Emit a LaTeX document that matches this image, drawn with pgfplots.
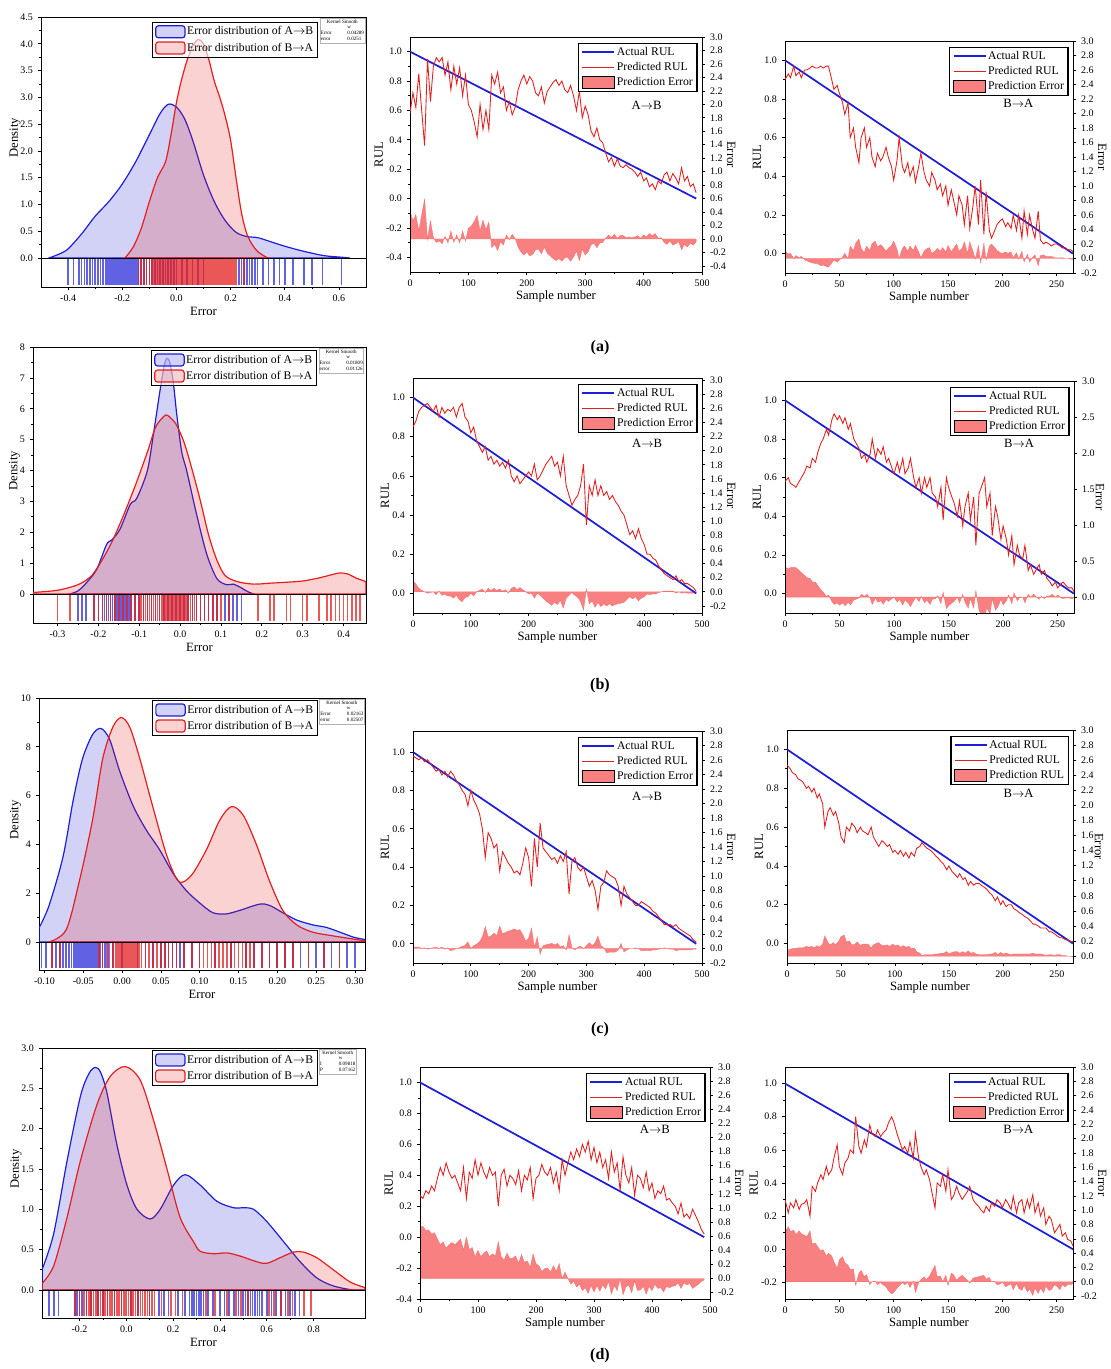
\documentclass[border=0pt]{standalone}
\usepackage{fontspec}
\setmainfont{Liberation Serif}
\usepackage{pgfplots}
\usepackage{pgfplotstable}
\pgfplotsset{compat=1.18}

\definecolor{cB}{RGB}{30,30,215}
\definecolor{cR}{RGB}{228,30,30}
\definecolor{cE}{RGB}{248,128,128}

\pgfplotsset{
  ax/.style={scale only axis, anchor=south west, tick align=outside,
    axis line style={line width=0.7pt}, major tick length=2.5pt, minor tick length=1.4pt,
    tick style={line width=0.5pt, black},
    tick label style={font=\fontsize{7.5}{8}\selectfont},
    label style={font=\fontsize{9.5}{10}\selectfont},
    /pgf/number format/assume math mode=true},
  yone/.style={yticklabel style={/pgf/number format/fixed, /pgf/number format/fixed zerofill, /pgf/number format/precision=1}},
  xone/.style={xticklabel style={/pgf/number format/fixed, /pgf/number format/fixed zerofill, /pgf/number format/precision=1}},
  xtwo/.style={xticklabel style={/pgf/number format/fixed, /pgf/number format/fixed zerofill, /pgf/number format/precision=2}},
  actlegend/.style={legend image code/.code={\draw[draw=cB, line width=1.6pt] (0pt,0pt) -- (24pt,0pt);}},
  predlegend/.style={legend image code/.code={\draw[draw=cR, line width=1.2pt] (0pt,0pt) -- (24pt,0pt);}},
  boxlegend/.style={legend image code/.code={\fill[fill=cE] (0pt,-4.5pt) rectangle (24pt,4.5pt);}},
  densleg/.style={legend image code/.code={\draw[##1, rounded corners=2pt] (0pt,-4.5pt) rectangle (22pt,4.5pt);}},
  rulmain/.style={ax, xtick pos=bottom, ytick pos=left, ylabel={RUL}, xlabel={Sample number},
    ylabel shift=-4.5pt, xlabel shift=-4pt,
    yone, minor x tick num=1, minor y tick num=1, legend cell align=left,
    legend style={at={(0.985,0.975)}, anchor=north east, draw=black, line width=0.9pt, fill=white,
      font=\fontsize{8.8}{9.5}\selectfont, inner xsep=2pt, inner ysep=1pt, nodes={inner xsep=1.1pt, inner ysep=1.9pt}}},
  rulerr/.style={ax, hide x axis, axis y line*=right, ylabel={Error}, ylabel style={rotate=180}, ylabel shift=-6pt, yone},
  dens/.style 2 args={ax, xtick=\empty, ytick pos=left, minor y tick num=1, ylabel={Density}, ylabel shift=-7pt, legend cell align=left,
    legend style={at={(#1,#2)}, anchor=north east, draw=black, line width=0.9pt, fill=white, fill opacity=0.6, text opacity=1,
      font=\fontsize{8.8}{9.5}\selectfont, inner xsep=2pt, inner ysep=1pt, nodes={inner xsep=1.1pt, inner ysep=2.2pt}}},
  rug/.style={ax, ytick=\empty, xtick pos=bottom, minor x tick num=1, xlabel={Error}, xlabel shift=-3pt, ymin=-0.06, ymax=1.04},
  act/.style={cB, line width=1.3pt, actlegend},
  pred/.style={cR, line width=0.65pt, predlegend},
  errf/.style={fill=cE, draw=cE!85!red, line width=0.25pt},
  dB/.style={draw=cB, line width=0.9pt, fill=cB, fill opacity=0.2, smooth, densleg},
  dR/.style={draw=cR, line width=0.9pt, fill=cR, fill opacity=0.2, smooth, densleg},
  rB/.style={ycomb, draw=cB, draw opacity=0.7, line width=1.2pt},
  rR/.style={ycomb, draw=cR, draw opacity=0.75, line width=1.2pt},
}
\tikzset{ktab/.style={anchor=north west, font=\fontsize{3.8}{4.3}\selectfont, inner sep=0.6pt, draw=gray!60, line width=0.2pt, fill=white},
  dir/.style={font=\fontsize{9.5}{10}\selectfont}}

% ---------------- RUL data: x, predicted, error ----------------
\pgfplotstableread{
x p e
0 0.58 0.42
5 0.72 0.27
10 0.62 0.36
15 0.85 0.12
20 0.60 0.36
25 0.36 0.59
30 0.95 -0.01
35 0.66 0.27
40 0.90 0.02
45 0.96 -0.05
50 0.93 -0.03
55 0.96 -0.07
60 0.84 0.04
65 0.93 -0.06
70 0.74 0.12
75 0.90 -0.05
80 0.78 0.06
85 0.89 -0.06
90 0.70 0.12
95 0.84 -0.03
100 0.64 0.16
105 0.60 0.19
110 0.52 0.26
115 0.42 0.35
120 0.64 0.12
125 0.47 0.28
130 0.60 0.14
135 0.47 0.25
140 0.84 -0.13
145 0.78 -0.08
150 0.86 -0.17
155 0.72 -0.04
160 0.76 -0.09
165 0.60 0.06
170 0.66 -0.01
175 0.57 0.07
180 0.62 0.01
185 0.74 -0.12
190 0.80 -0.19
195 0.84 -0.24
200 0.78 -0.19
205 0.83 -0.25
210 0.80 -0.23
215 0.72 -0.16
220 0.70 -0.15
225 0.76 -0.22
230 0.65 -0.12
235 0.73 -0.21
240 0.76 -0.25
245 0.79 -0.29
250 0.81 -0.32
255 0.77 -0.29
260 0.80 -0.33
265 0.74 -0.28
270 0.72 -0.27
275 0.77 -0.33
280 0.70 -0.27
285 0.60 -0.18
290 0.73 -0.32
295 0.55 -0.15
300 0.63 -0.24
305 0.57 -0.19
310 0.46 -0.09
315 0.42 -0.06
320 0.48 -0.13
325 0.40 -0.06
330 0.38 -0.05
335 0.31 0.01
340 0.25 0.06
345 0.28 0.02
350 0.22 0.07
355 0.27 0.01
360 0.22 0.05
365 0.21 0.05
370 0.23 0.02
375 0.21 0.03
380 0.20 0.02
385 0.18 0.03
390 0.15 0.05
395 0.18 0.01
400 0.12 0.06
405 0.14 0.03
410 0.08 0.08
415 0.10 0.05
420 0.06 0.08
425 0.12 0.01
430 0.10 0.02
435 0.16 -0.05
440 0.18 -0.08
445 0.12 -0.03
450 0.17 -0.09
455 0.14 -0.07
460 0.10 -0.04
465 0.21 -0.16
470 0.12 -0.08
475 0.15 -0.12
480 0.08 -0.06
485 0.10 -0.09
490 0.04 -0.04
}\tAm

\pgfplotstableread{
x p e
0 0.90 0.10
3 0.93 0.06
5 0.91 0.07
8 0.97 0.00
10 0.92 0.04
13 0.94 0.01
15 0.91 0.03
18 0.95 -0.02
20 0.95 -0.03
23 0.96 -0.05
25 0.97 -0.06
28 0.96 -0.07
30 0.96 -0.07
33 0.97 -0.10
35 0.96 -0.09
38 0.97 -0.11
40 0.97 -0.12
43 0.90 -0.06
45 0.85 -0.02
48 0.87 -0.05
50 0.83 -0.02
53 0.78 0.02
55 0.72 0.07
58 0.78 0.00
60 0.60 0.17
63 0.65 0.11
65 0.55 0.21
68 0.47 0.27
70 0.60 0.14
73 0.65 0.08
75 0.55 0.17
78 0.60 0.11
80 0.50 0.20
83 0.45 0.24
85 0.52 0.16
88 0.48 0.19
90 0.50 0.16
93 0.55 0.10
95 0.50 0.14
98 0.45 0.18
100 0.38 0.24
103 0.48 0.13
105 0.60 0.00
108 0.45 0.14
110 0.42 0.17
113 0.47 0.10
115 0.40 0.17
118 0.45 0.11
120 0.37 0.18
123 0.45 0.09
125 0.52 0.01
128 0.42 0.10
130 0.38 0.13
133 0.35 0.15
135 0.42 0.07
138 0.38 0.10
140 0.33 0.14
143 0.36 0.10
145 0.30 0.15
148 0.35 0.09
150 0.25 0.18
153 0.33 0.09
155 0.28 0.14
158 0.20 0.20
160 0.30 0.10
163 0.25 0.14
165 0.15 0.23
168 0.30 0.07
170 0.13 0.23
173 0.25 0.10
175 0.35 -0.01
178 0.15 0.18
180 0.38 -0.06
183 0.10 0.21
185 0.32 -0.02
188 0.12 0.17
190 0.08 0.20
193 0.12 0.15
195 0.15 0.11
198 0.17 0.08
200 0.18 0.07
203 0.14 0.09
205 0.16 0.07
208 0.13 0.09
210 0.20 0.01
213 0.12 0.08
215 0.20 -0.01
218 0.08 0.10
220 0.22 -0.05
223 0.10 0.06
225 0.20 -0.05
228 0.12 0.02
230 0.08 0.05
233 0.22 -0.10
235 0.07 0.04
238 0.05 0.05
240 0.06 0.03
243 0.05 0.03
245 0.04 0.03
248 0.05 0.01
250 0.05 0.01
253 0.04 0.01
255 0.03 0.01
258 0.03 0.00
260 0.02 0.00
263 0.02 -0.01
265 0.01 -0.01
}\tAr

\pgfplotstableread{
x p e
0 0.85 0.15
5 0.88 0.11
10 0.93 0.05
15 0.95 0.02
20 0.96 0.00
25 0.97 -0.02
30 0.95 -0.01
35 0.93 0.00
40 0.96 -0.04
45 0.90 0.01
50 0.95 -0.05
55 0.92 -0.03
60 0.94 -0.06
65 0.93 -0.06
70 0.95 -0.09
75 0.90 -0.05
80 0.95 -0.11
85 0.97 -0.14
90 0.90 -0.08
95 0.88 -0.07
100 0.82 -0.02
105 0.85 -0.06
110 0.78 0.00
115 0.75 0.02
120 0.72 0.04
125 0.75 -0.01
130 0.68 0.05
135 0.70 0.02
140 0.66 0.05
145 0.68 0.02
150 0.65 0.04
155 0.67 0.01
160 0.64 0.03
165 0.68 -0.02
170 0.60 0.05
175 0.57 0.07
180 0.60 0.03
185 0.56 0.06
190 0.58 0.03
195 0.60 0.00
200 0.62 -0.03
205 0.60 -0.02
210 0.66 -0.09
215 0.58 -0.02
220 0.60 -0.05
225 0.63 -0.09
230 0.66 -0.13
235 0.68 -0.16
240 0.70 -0.19
245 0.65 -0.15
250 0.67 -0.18
255 0.60 -0.12
260 0.70 -0.23
265 0.55 -0.09
270 0.50 -0.05
275 0.45 -0.01
280 0.48 -0.05
285 0.50 -0.08
290 0.55 -0.14
295 0.66 -0.26
300 0.35 0.04
305 0.55 -0.17
310 0.50 -0.13
315 0.58 -0.22
320 0.50 -0.15
325 0.55 -0.21
330 0.50 -0.17
335 0.52 -0.20
340 0.48 -0.17
345 0.50 -0.20
350 0.47 -0.18
355 0.45 -0.17
360 0.42 -0.16
365 0.40 -0.15
370 0.35 -0.11
375 0.30 -0.07
380 0.32 -0.10
385 0.28 -0.07
390 0.33 -0.13
395 0.28 -0.09
400 0.25 -0.07
405 0.20 -0.03
410 0.20 -0.04
415 0.18 -0.03
420 0.17 -0.03
425 0.14 -0.01
430 0.12 0.00
435 0.10 0.01
440 0.09 0.01
445 0.08 0.01
450 0.07 0.01
455 0.09 -0.02
460 0.06 0.00
465 0.07 -0.02
470 0.05 -0.01
475 0.05 -0.02
480 0.04 -0.02
485 0.03 -0.02
490 0.01 -0.01
}\tBm

\pgfplotstableread{
x p e
0 0.58 0.42
3 0.60 0.39
5 0.57 0.41
8 0.56 0.41
10 0.55 0.41
13 0.58 0.37
15 0.60 0.34
18 0.63 0.30
20 0.66 0.27
23 0.65 0.26
25 0.70 0.21
28 0.68 0.21
30 0.73 0.16
33 0.78 0.10
35 0.80 0.07
38 0.85 0.01
40 0.82 0.03
43 0.90 -0.06
45 0.93 -0.10
48 0.90 -0.08
50 0.92 -0.11
53 0.88 -0.08
55 0.91 -0.12
58 0.85 -0.07
60 0.88 -0.11
63 0.80 -0.04
65 0.78 -0.03
68 0.75 -0.01
70 0.70 0.04
73 0.72 0.01
75 0.68 0.04
78 0.72 -0.01
80 0.80 -0.10
83 0.70 -0.01
85 0.75 -0.07
88 0.72 -0.05
90 0.76 -0.10
93 0.68 -0.03
95 0.70 -0.06
98 0.65 -0.02
100 0.62 0.00
103 0.68 -0.07
105 0.63 -0.03
108 0.70 -0.11
110 0.62 -0.04
113 0.65 -0.08
115 0.70 -0.13
118 0.60 -0.05
120 0.55 0.00
123 0.60 -0.06
125 0.52 0.01
128 0.60 -0.08
130 0.55 -0.04
133 0.60 -0.10
135 0.52 -0.03
138 0.50 -0.02
140 0.45 0.02
143 0.55 -0.09
145 0.38 0.07
148 0.60 -0.16
150 0.55 -0.12
153 0.50 -0.08
155 0.47 -0.06
158 0.40 0.00
160 0.48 -0.08
163 0.35 0.04
165 0.45 -0.07
168 0.52 -0.15
170 0.38 -0.02
173 0.50 -0.15
175 0.25 0.09
178 0.52 -0.19
180 0.55 -0.23
183 0.60 -0.29
185 0.45 -0.15
188 0.52 -0.23
190 0.30 -0.02
193 0.45 -0.18
195 0.40 -0.14
198 0.28 -0.03
200 0.35 -0.11
203 0.28 -0.05
205 0.20 0.03
208 0.30 -0.09
210 0.15 0.06
213 0.25 -0.05
215 0.20 -0.01
218 0.18 0.00
220 0.25 -0.08
223 0.12 0.04
225 0.15 0.00
228 0.10 0.04
230 0.12 0.01
233 0.15 -0.03
235 0.10 0.01
238 0.12 -0.02
240 0.08 0.01
243 0.06 0.02
245 0.04 0.04
248 0.06 0.00
250 0.03 0.03
253 0.05 -0.01
255 0.06 -0.02
258 0.04 -0.01
260 0.03 -0.01
263 0.03 -0.02
265 0.01 -0.01
}\tBr

\pgfplotstableread{
x p e
0 0.98 0.02
5 0.97 0.02
10 0.96 0.02
15 0.97 0.00
20 0.95 0.01
25 0.96 -0.01
30 0.94 0.00
35 0.92 0.01
40 0.90 0.02
45 0.91 0.00
50 0.88 0.02
55 0.90 -0.01
60 0.87 0.01
65 0.90 -0.03
70 0.88 -0.02
75 0.85 0.00
80 0.83 0.01
85 0.80 0.03
90 0.78 0.04
95 0.72 0.09
100 0.80 0.00
105 0.75 0.04
110 0.72 0.06
115 0.68 0.09
120 0.60 0.16
125 0.45 0.30
130 0.58 0.16
135 0.55 0.17
140 0.50 0.21
145 0.52 0.18
150 0.38 0.31
155 0.48 0.20
160 0.45 0.22
165 0.42 0.24
170 0.40 0.25
175 0.37 0.27
180 0.38 0.25
185 0.36 0.26
190 0.42 0.19
195 0.50 0.10
200 0.45 0.14
205 0.30 0.28
210 0.55 0.02
215 0.40 0.16
220 0.63 -0.08
225 0.50 0.04
230 0.48 0.05
235 0.46 0.06
240 0.44 0.07
245 0.45 0.05
250 0.42 0.07
255 0.46 0.02
260 0.43 0.04
265 0.48 -0.02
270 0.26 0.19
275 0.43 0.01
280 0.45 -0.02
285 0.40 0.02
290 0.38 0.03
295 0.40 0.00
300 0.35 0.04
305 0.30 0.08
310 0.33 0.04
315 0.28 0.08
320 0.18 0.17
325 0.30 0.04
330 0.32 0.01
335 0.38 -0.06
340 0.36 -0.05
345 0.35 -0.05
350 0.34 -0.05
355 0.30 -0.02
360 0.20 0.07
365 0.30 -0.05
370 0.26 -0.02
375 0.24 0.00
380 0.22 0.00
385 0.20 0.01
390 0.20 0.00
395 0.22 -0.03
400 0.21 -0.03
405 0.20 -0.03
410 0.19 -0.03
415 0.17 -0.02
420 0.16 -0.02
425 0.14 -0.01
430 0.12 0.00
435 0.10 0.01
440 0.10 0.00
445 0.10 -0.01
450 0.09 -0.01
455 0.10 -0.03
460 0.08 -0.02
465 0.07 -0.02
470 0.06 -0.02
475 0.05 -0.02
480 0.04 -0.02
485 0.02 -0.01
490 0.01 -0.01
}\tCm

\pgfplotstableread{
x p e
0 0.92 0.08
3 0.90 0.09
5 0.88 0.10
8 0.87 0.10
10 0.85 0.11
13 0.84 0.11
15 0.83 0.11
18 0.80 0.13
20 0.81 0.12
23 0.78 0.13
25 0.80 0.11
28 0.75 0.14
30 0.77 0.12
33 0.72 0.16
35 0.60 0.27
38 0.68 0.18
40 0.70 0.15
43 0.66 0.18
45 0.68 0.15
48 0.62 0.20
50 0.55 0.26
53 0.52 0.28
55 0.60 0.19
58 0.58 0.20
60 0.62 0.15
63 0.60 0.16
65 0.57 0.19
68 0.60 0.14
70 0.58 0.16
73 0.57 0.16
75 0.56 0.16
78 0.60 0.11
80 0.55 0.15
83 0.52 0.17
85 0.50 0.18
88 0.53 0.14
90 0.52 0.14
93 0.50 0.15
95 0.51 0.13
98 0.47 0.16
100 0.48 0.14
103 0.46 0.15
105 0.48 0.12
108 0.45 0.14
110 0.47 0.12
113 0.44 0.13
115 0.47 0.10
118 0.45 0.11
120 0.49 0.06
123 0.50 0.04
125 0.52 0.01
128 0.50 0.02
130 0.49 0.02
133 0.48 0.02
135 0.47 0.02
138 0.45 0.03
140 0.44 0.03
143 0.42 0.04
145 0.41 0.04
148 0.38 0.06
150 0.40 0.03
153 0.37 0.05
155 0.36 0.06
158 0.34 0.06
160 0.36 0.04
163 0.33 0.06
165 0.34 0.04
168 0.30 0.07
170 0.32 0.04
173 0.30 0.05
175 0.31 0.03
178 0.31 0.02
180 0.30 0.02
183 0.29 0.02
185 0.28 0.02
188 0.26 0.03
190 0.25 0.03
193 0.22 0.05
195 0.24 0.02
198 0.20 0.05
200 0.22 0.03
203 0.19 0.04
205 0.20 0.03
208 0.20 0.02
210 0.18 0.03
213 0.17 0.03
215 0.16 0.03
218 0.15 0.03
220 0.14 0.03
223 0.13 0.03
225 0.12 0.03
228 0.10 0.04
230 0.10 0.03
233 0.09 0.03
235 0.08 0.03
238 0.08 0.02
240 0.08 0.01
243 0.06 0.02
245 0.06 0.02
248 0.05 0.01
250 0.04 0.02
253 0.03 0.02
255 0.03 0.01
258 0.02 0.01
260 0.02 0.00
263 0.01 0.00
265 0.01 -0.01
}\tCr

\pgfplotstableread{
x p e
0 0.27 0.73
5 0.25 0.74
10 0.30 0.68
15 0.28 0.69
20 0.33 0.63
25 0.30 0.65
30 0.38 0.56
35 0.45 0.48
40 0.40 0.52
45 0.48 0.43
50 0.42 0.48
55 0.38 0.51
60 0.40 0.48
65 0.35 0.52
70 0.30 0.56
75 0.45 0.40
80 0.25 0.59
85 0.42 0.41
90 0.38 0.44
95 0.50 0.31
100 0.40 0.40
105 0.48 0.31
110 0.42 0.36
115 0.38 0.39
120 0.45 0.31
125 0.40 0.35
130 0.42 0.32
135 0.20 0.52
140 0.40 0.31
145 0.44 0.26
150 0.33 0.36
155 0.40 0.28
160 0.38 0.29
165 0.34 0.32
170 0.43 0.22
175 0.30 0.34
180 0.40 0.23
185 0.37 0.25
190 0.45 0.16
195 0.25 0.35
200 0.38 0.21
205 0.40 0.18
210 0.47 0.10
215 0.42 0.14
220 0.40 0.15
225 0.45 0.09
230 0.35 0.18
235 0.42 0.10
240 0.30 0.21
245 0.50 0.00
250 0.40 0.09
255 0.48 0.00
260 0.55 -0.08
265 0.50 -0.04
270 0.57 -0.12
275 0.52 -0.08
280 0.60 -0.17
285 0.55 -0.13
290 0.62 -0.21
295 0.50 -0.10
300 0.58 -0.19
305 0.48 -0.10
310 0.55 -0.18
315 0.45 -0.09
320 0.50 -0.15
325 0.38 -0.04
330 0.55 -0.22
335 0.42 -0.10
340 0.48 -0.17
345 0.30 0.00
350 0.52 -0.23
355 0.40 -0.12
360 0.35 -0.09
365 0.45 -0.20
370 0.27 -0.03
375 0.40 -0.17
380 0.38 -0.16
385 0.32 -0.11
390 0.42 -0.22
395 0.30 -0.11
400 0.35 -0.17
405 0.25 -0.08
410 0.30 -0.14
415 0.28 -0.13
420 0.33 -0.19
425 0.24 -0.11
430 0.25 -0.13
435 0.22 -0.11
440 0.20 -0.10
445 0.15 -0.06
450 0.22 -0.14
455 0.13 -0.06
460 0.15 -0.09
465 0.12 -0.07
470 0.18 -0.14
475 0.14 -0.11
480 0.10 -0.08
485 0.05 -0.04
490 0.02 -0.02
}\tDm

\pgfplotstableread{
x p e
0 0.30 0.70
3 0.22 0.77
5 0.28 0.70
8 0.25 0.72
10 0.30 0.66
13 0.24 0.71
15 0.27 0.67
18 0.28 0.65
20 0.30 0.63
23 0.20 0.71
25 0.38 0.53
28 0.35 0.54
30 0.40 0.49
33 0.45 0.43
35 0.42 0.45
38 0.50 0.36
40 0.45 0.40
43 0.48 0.36
45 0.55 0.28
48 0.63 0.19
50 0.50 0.31
53 0.45 0.35
55 0.52 0.27
58 0.55 0.23
60 0.60 0.17
63 0.58 0.18
65 0.80 -0.05
68 0.62 0.12
70 0.58 0.16
73 0.66 0.07
75 0.62 0.10
78 0.75 -0.04
80 0.70 0.00
83 0.68 0.01
85 0.72 -0.04
88 0.68 -0.01
90 0.70 -0.04
93 0.72 -0.07
95 0.76 -0.12
98 0.80 -0.17
100 0.77 -0.15
103 0.70 -0.09
105 0.66 -0.06
108 0.60 -0.01
110 0.62 -0.04
113 0.58 -0.01
115 0.65 -0.08
118 0.55 0.01
120 0.70 -0.15
123 0.55 -0.01
125 0.50 0.03
128 0.45 0.07
130 0.48 0.03
133 0.42 0.08
135 0.35 0.14
138 0.25 0.23
140 0.40 0.07
143 0.38 0.08
145 0.45 0.00
148 0.35 0.09
150 0.48 -0.05
153 0.30 0.12
155 0.32 0.10
158 0.38 0.02
160 0.34 0.06
163 0.30 0.09
165 0.32 0.06
168 0.35 0.02
170 0.38 -0.02
173 0.30 0.05
175 0.28 0.06
178 0.26 0.07
180 0.24 0.08
183 0.22 0.09
185 0.26 0.04
188 0.23 0.06
190 0.28 0.00
193 0.26 0.01
195 0.30 -0.04
198 0.28 -0.03
200 0.25 0.00
203 0.30 -0.07
205 0.28 -0.05
208 0.24 -0.03
210 0.32 -0.11
213 0.22 -0.02
215 0.28 -0.09
218 0.30 -0.12
220 0.22 -0.05
223 0.30 -0.14
225 0.25 -0.10
228 0.33 -0.19
230 0.22 -0.09
233 0.28 -0.16
235 0.20 -0.09
238 0.25 -0.15
240 0.15 -0.06
243 0.20 -0.12
245 0.18 -0.11
248 0.10 -0.04
250 0.12 -0.06
253 0.15 -0.11
255 0.08 -0.04
258 0.10 -0.07
260 0.06 -0.04
263 0.05 -0.04
265 0.02 -0.02
}\tDr

\begin{document}
\begin{tikzpicture}
\useasboundingbox (0,0) rectangle (832.5pt,1026.75pt);

% ======================= ROW (a) =======================
\begin{axis}[dens={0.852}{0.98}, at={(30.75pt,833.25pt)}, width=243.75pt, height=180.75pt,
  xmin=-0.5, xmax=0.7, ymin=0, ymax=4.5, ytick={0,0.5,1,1.5,2,2.5,3,3.5,4,4.5}, yone]
\addplot[dB] coordinates {(-0.47,0) (-0.43,0.08) (-0.4,0.17) (-0.35,0.45) (-0.3,0.78) (-0.25,1.05) (-0.2,1.38) (-0.15,1.8) (-0.1,2.3) (-0.06,2.7) (-0.03,2.87) (0.0,2.82) (0.03,2.6) (0.06,2.2) (0.1,1.55) (0.14,1.05) (0.18,0.7) (0.22,0.48) (0.26,0.4) (0.3,0.38) (0.35,0.3) (0.4,0.22) (0.45,0.15) (0.5,0.09) (0.55,0.04) (0.62,0.01) (0.64,0)} \closedcycle;
\addplot[dR] coordinates {(-0.19,0) (-0.16,0.2) (-0.13,0.55) (-0.1,1.05) (-0.07,1.5) (-0.04,1.8) (-0.02,2.3) (0.0,2.9) (0.02,3.35) (0.04,3.7) (0.06,3.95) (0.08,4.08) (0.1,4.0) (0.12,3.7) (0.14,3.3) (0.16,3.0) (0.18,2.65) (0.2,2.2) (0.22,1.5) (0.24,0.85) (0.26,0.45) (0.28,0.25) (0.3,0.12) (0.33,0.02) (0.34,0)} \closedcycle;
\legend{Error distribution of A$\rightarrow$B, Error distribution of B$\rightarrow$A}
\node[ktab] at (rel axis cs:0.858,0.995) {\begin{tabular}{@{}ll@{}}\multicolumn{2}{@{}c@{}}{Kernel Smooth}\\ & w\\ Error & 0.04289\\ error & 0.0251\end{tabular}};
\end{axis}
\begin{axis}[rug, at={(30.75pt,811.5pt)}, width=243.75pt, height=21.75pt, xmin=-0.5, xmax=0.7,
  xtick={-0.4,-0.2,0,0.2,0.4,0.6}, xone]
\addplot[rB] coordinates {(-0.40,1) (-0.38,1) (-0.36,1) (-0.35,1) (-0.34,1) (-0.33,1) (-0.32,1) (-0.31,1) (-0.30,1) (-0.29,1) (-0.28,1) (-0.27,1) (-0.26,1) (-0.255,1) (-0.25,1) (-0.245,1) (-0.24,1) (-0.235,1) (-0.23,1) (-0.225,1) (-0.22,1) (-0.215,1) (-0.21,1) (-0.205,1) (-0.20,1) (-0.195,1) (-0.19,1) (-0.185,1) (-0.18,1) (-0.175,1) (-0.17,1) (-0.165,1) (-0.16,1) (-0.155,1) (-0.15,1) (-0.145,1) (-0.14,1) (-0.13,1) (-0.12,1) (-0.11,1) (-0.10,1) (-0.09,1) (-0.08,1) (-0.07,1) (-0.06,1) (-0.05,1) (-0.04,1) (-0.03,1) (-0.02,1) (-0.01,1) (0.00,1) (0.02,1) (0.04,1) (0.06,1) (0.08,1) (0.10,1) (0.23,1) (0.24,1) (0.25,1) (0.26,1) (0.27,1) (0.28,1) (0.29,1) (0.30,1) (0.32,1) (0.34,1) (0.36,1) (0.38,1) (0.40,1) (0.43,1) (0.47,1) (0.50,1) (0.54,1) (0.61,1)};
\addplot[rR] coordinates {(-0.14,1) (-0.13,1) (-0.12,1) (-0.11,1) (-0.10,1) (-0.09,1) (-0.085,1) (-0.08,1) (-0.075,1) (-0.07,1) (-0.065,1) (-0.06,1) (-0.055,1) (-0.05,1) (-0.045,1) (-0.04,1) (-0.035,1) (-0.03,1) (-0.025,1) (-0.02,1) (-0.015,1) (-0.01,1) (-0.005,1) (0.00,1) (0.005,1) (0.01,1) (0.015,1) (0.02,1) (0.025,1) (0.03,1) (0.035,1) (0.04,1) (0.045,1) (0.05,1) (0.055,1) (0.06,1) (0.065,1) (0.07,1) (0.075,1) (0.08,1) (0.085,1) (0.09,1) (0.095,1) (0.10,1) (0.105,1) (0.11,1) (0.115,1) (0.12,1) (0.125,1) (0.13,1) (0.135,1) (0.14,1) (0.145,1) (0.15,1) (0.155,1) (0.16,1) (0.165,1) (0.17,1) (0.175,1) (0.18,1) (0.185,1) (0.19,1) (0.195,1) (0.20,1) (0.205,1) (0.21,1) (0.215,1) (0.22,1) (0.25,1)};
\end{axis}

\begin{axis}[rulerr, at={(307.5pt,822.75pt)}, width=219pt, height=176.25pt, xmin=0, xmax=500, ymin=-0.49, ymax=3.0,
  ytick={-0.4,-0.2,0,0.2,0.4,0.6,0.8,1.0,1.2,1.4,1.6,1.8,2.0,2.2,2.4,2.6,2.8,3.0}]
\addplot[errf] table[x=x,y=e] {\tAm} \closedcycle;
\end{axis}
\begin{axis}[rulmain, at={(307.5pt,822.75pt)}, width=219pt, height=176.25pt, xmin=0, xmax=500, ymin=-0.5, ymax=1.1,
  ytick={-0.4,-0.2,0,0.2,0.4,0.6,0.8,1.0}]
\addplot[act] coordinates {(0,1) (490,0)};
\addplot[pred] table[x=x,y=p] {\tAm};
\addlegendimage{boxlegend}
\legend{Actual RUL, Predicted RUL, Prediction Error}
\node[dir] at (rel axis cs:0.81,0.71) {A$\rightarrow$B};
\end{axis}

\begin{axis}[rulerr, at={(588.75pt,822pt)}, width=216pt, height=174pt, xmin=0, xmax=265, ymin=-0.2, ymax=3.0,
  ytick={-0.2,0,0.2,0.4,0.6,0.8,1.0,1.2,1.4,1.6,1.8,2.0,2.2,2.4,2.6,2.8,3.0}]
\addplot[errf] table[x=x,y=e] {\tAr} \closedcycle;
\end{axis}
\begin{axis}[rulmain, at={(588.75pt,822pt)}, width=216pt, height=174pt, xmin=0, xmax=265, ymin=-0.1, ymax=1.1,
  xtick={0,50,100,150,200,250}, ytick={0,0.2,0.4,0.6,0.8,1.0}]
\addplot[act] coordinates {(0,1) (265,0)};
\addplot[pred] table[x=x,y=p] {\tAr};
\addlegendimage{boxlegend}
\legend{Actual RUL, Predicted RUL, Prediction Error}
\node[dir] at (rel axis cs:0.81,0.73) {B$\rightarrow$A};
\end{axis}

\node[font=\bfseries\fontsize{12}{14}\selectfont] at (450pt,765.75pt) {(a)};

% ======================= ROW (b) =======================
\begin{axis}[dens={0.853}{0.988}, at={(24.75pt,581.25pt)}, width=249.75pt, height=185.25pt,
  xmin=-0.36, xmax=0.455, ymin=0, ymax=8, ytick={0,1,2,3,4,5,6,7,8}]
\addplot[dB] coordinates {(-0.27,0) (-0.25,0.1) (-0.23,0.35) (-0.204,0.8) (-0.18,1.6) (-0.167,1.75) (-0.147,2.1) (-0.122,2.9) (-0.106,3.1) (-0.08,4.0) (-0.065,5.2) (-0.049,6.6) (-0.037,7.5) (-0.028,7.6) (-0.018,7.0) (-0.008,5.8) (0.004,4.6) (0.016,4.0) (0.04,2.6) (0.065,1.3) (0.09,0.5) (0.114,0.3) (0.13,0.32) (0.147,0.22) (0.165,0.08) (0.18,0)} \closedcycle;
\addplot[dR] coordinates {(-0.36,0.05) (-0.3,0.12) (-0.25,0.3) (-0.22,0.55) (-0.2,0.9) (-0.17,1.6) (-0.14,2.5) (-0.11,3.5) (-0.08,4.6) (-0.06,5.4) (-0.04,5.75) (-0.03,5.78) (-0.01,5.5) (0.01,4.9) (0.03,4.0) (0.05,3.0) (0.07,1.9) (0.09,1.1) (0.11,0.6) (0.14,0.4) (0.18,0.32) (0.22,0.35) (0.26,0.38) (0.3,0.42) (0.34,0.52) (0.37,0.62) (0.39,0.68) (0.41,0.65) (0.43,0.52) (0.455,0.4)} \closedcycle;
\legend{Error distribution of A$\rightarrow$B, Error distribution of B$\rightarrow$A}
\node[ktab] at (rel axis cs:0.858,0.995) {\begin{tabular}{@{}ll@{}}\multicolumn{2}{@{}c@{}}{Kernel Smooth}\\ & w\\ Error & 0.01809\\ error & 0.01126\end{tabular}};
\end{axis}
\begin{axis}[rug, at={(24.75pt,559.5pt)}, width=249.75pt, height=21.75pt, xmin=-0.36, xmax=0.455,
  xtick={-0.3,-0.2,-0.1,0,0.1,0.2,0.3,0.4}, xone]
\addplot[rB] coordinates {(-0.25,1) (-0.24,1) (-0.23,1) (-0.21,1) (-0.20,1) (-0.19,1) (-0.185,1) (-0.18,1) (-0.175,1) (-0.17,1) (-0.165,1) (-0.16,1) (-0.155,1) (-0.15,1) (-0.145,1) (-0.14,1) (-0.135,1) (-0.13,1) (-0.125,1) (-0.12,1) (-0.11,1) (-0.10,1) (-0.09,1) (-0.08,1) (-0.07,1) (-0.06,1) (-0.05,1) (-0.04,1) (-0.03,1) (-0.02,1) (-0.01,1) (0.00,1) (0.01,1) (0.02,1) (0.03,1) (0.04,1) (0.05,1) (0.06,1) (0.07,1) (0.08,1) (0.09,1) (0.11,1) (0.12,1) (0.13,1) (0.14,1) (0.15,1)};
\addplot[rR] coordinates {(-0.30,1) (-0.27,1) (-0.21,1) (-0.20,1) (-0.19,1) (-0.18,1) (-0.17,1) (-0.16,1) (-0.15,1) (-0.14,1) (-0.13,1) (-0.12,1) (-0.11,1) (-0.10,1) (-0.095,1) (-0.09,1) (-0.085,1) (-0.08,1) (-0.075,1) (-0.07,1) (-0.065,1) (-0.06,1) (-0.055,1) (-0.05,1) (-0.045,1) (-0.04,1) (-0.035,1) (-0.03,1) (-0.025,1) (-0.02,1) (-0.015,1) (-0.01,1) (-0.005,1) (0.00,1) (0.005,1) (0.01,1) (0.015,1) (0.02,1) (0.025,1) (0.03,1) (0.035,1) (0.04,1) (0.05,1) (0.06,1) (0.07,1) (0.08,1) (0.09,1) (0.10,1) (0.12,1) (0.19,1) (0.22,1) (0.23,1) (0.26,1) (0.27,1) (0.30,1) (0.31,1) (0.34,1) (0.36,1) (0.37,1) (0.38,1) (0.39,1) (0.40,1) (0.41,1) (0.42,1) (0.43,1) (0.44,1)};
\end{axis}

\begin{axis}[rulerr, at={(309.75pt,567pt)}, width=216.75pt, height=176.25pt, xmin=0, xmax=500, ymin=-0.3, ymax=3.03,
  ytick={-0.2,0,0.2,0.4,0.6,0.8,1.0,1.2,1.4,1.6,1.8,2.0,2.2,2.4,2.6,2.8,3.0}]
\addplot[errf] table[x=x,y=e] {\tBm} \closedcycle;
\end{axis}
\begin{axis}[rulmain, at={(309.75pt,567pt)}, width=216.75pt, height=176.25pt, xmin=0, xmax=500, ymin=-0.1, ymax=1.1,
  ytick={0,0.2,0.4,0.6,0.8,1.0}]
\addplot[act] coordinates {(0,1) (490,0)};
\addplot[pred] table[x=x,y=p] {\tBm};
\addlegendimage{boxlegend}
\legend{Actual RUL, Predicted RUL, Prediction Error}
\node[dir] at (rel axis cs:0.81,0.72) {A$\rightarrow$B};
\end{axis}

\begin{axis}[rulerr, at={(588.75pt,567pt)}, width=216.75pt, height=174pt, xmin=0, xmax=265, ymin=-0.22, ymax=3.0,
  ytick={0,0.5,1.0,1.5,2.0,2.5,3.0}]
\addplot[errf] table[x=x,y=e] {\tBr} \closedcycle;
\end{axis}
\begin{axis}[rulmain, at={(588.75pt,567pt)}, width=216.75pt, height=174pt, xmin=0, xmax=265, ymin=-0.1, ymax=1.1,
  xtick={0,50,100,150,200,250}, ytick={0,0.2,0.4,0.6,0.8,1.0}]
\addplot[act] coordinates {(0,1) (265,0)};
\addplot[pred] table[x=x,y=p] {\tBr};
\addlegendimage{boxlegend}
\legend{Actual RUL, Predicted RUL, Prediction Error}
\node[dir] at (rel axis cs:0.81,0.73) {B$\rightarrow$A};
\end{axis}

\node[font=\bfseries\fontsize{12}{14}\selectfont] at (450pt,512.25pt) {(b)};

% ======================= ROW (c) =======================
\begin{axis}[dens={0.856}{0.992}, at={(29.25pt,320.25pt)}, width=244.5pt, height=183pt,
  xmin=-0.107, xmax=0.313, ymin=0, ymax=10, ytick={0,2,4,6,8,10}]
\addplot[dB] coordinates {(-0.107,0.57) (-0.094,1.5) (-0.076,3.5) (-0.063,5.8) (-0.051,7.5) (-0.038,8.5) (-0.027,8.75) (-0.016,8.3) (-0.003,7.0) (0.014,5.6) (0.031,4.6) (0.048,3.8) (0.066,2.8) (0.083,2.1) (0.1,1.6) (0.117,1.2) (0.134,1.15) (0.152,1.3) (0.177,1.55) (0.19,1.5) (0.207,1.2) (0.225,0.9) (0.246,0.7) (0.263,0.6) (0.281,0.4) (0.298,0.2) (0.313,0.1)} \closedcycle;
\addplot[dR] coordinates {(-0.094,0) (-0.072,0.5) (-0.055,2.5) (-0.038,5.0) (-0.025,7.5) (-0.012,8.8) (-0.001,9.2) (0.01,8.8) (0.023,7.5) (0.04,5.5) (0.057,3.6) (0.07,2.6) (0.078,2.45) (0.091,2.8) (0.109,3.8) (0.126,5.0) (0.141,5.55) (0.156,5.2) (0.173,4.0) (0.19,2.5) (0.207,1.3) (0.225,0.7) (0.246,0.4) (0.272,0.25) (0.298,0.12) (0.313,0.05)} \closedcycle;
\legend{Error distribution of A$\rightarrow$B, Error distribution of B$\rightarrow$A}
\node[ktab] at (rel axis cs:0.86,0.995) {\begin{tabular}{@{}ll@{}}\multicolumn{2}{@{}c@{}}{Kernel Smooth}\\ & w\\ Error & 0.02163\\ error & 0.02507\end{tabular}};
\end{axis}
\begin{axis}[rug, at={(29.25pt,299.25pt)}, width=244.5pt, height=21pt, xmin=-0.107, xmax=0.313,
  xtick={-0.10,-0.05,0,0.05,0.10,0.15,0.20,0.25,0.30}, minor x tick num=0, xtwo]
\addplot[rB] coordinates {(-0.104,1) (-0.098,1) (-0.09,1) (-0.085,1) (-0.08,1) (-0.076,1) (-0.072,1) (-0.068,1) (-0.065,1) (-0.062,1) (-0.06,1) (-0.058,1) (-0.056,1) (-0.054,1) (-0.052,1) (-0.05,1) (-0.048,1) (-0.046,1) (-0.044,1) (-0.042,1) (-0.04,1) (-0.038,1) (-0.036,1) (-0.034,1) (-0.032,1) (-0.03,1) (-0.028,1) (-0.025,1) (-0.022,1) (-0.018,1) (-0.012,1) (0.00,1) (0.02,1) (0.03,1) (0.04,1) (0.05,1) (0.055,1) (0.06,1) (0.065,1) (0.07,1) (0.075,1) (0.08,1) (0.09,1) (0.1,1) (0.12,1) (0.14,1) (0.16,1) (0.17,1) (0.18,1) (0.19,1) (0.2,1) (0.21,1) (0.22,1) (0.23,1) (0.24,1) (0.25,1) (0.26,1) (0.27,1) (0.28,1) (0.29,1) (0.30,1)};
\addplot[rR] coordinates {(-0.09,1) (-0.08,1) (-0.03,1) (-0.025,1) (-0.02,1) (-0.016,1) (-0.012,1) (-0.008,1) (-0.006,1) (-0.004,1) (-0.002,1) (0.00,1) (0.002,1) (0.004,1) (0.006,1) (0.008,1) (0.01,1) (0.012,1) (0.014,1) (0.016,1) (0.018,1) (0.02,1) (0.022,1) (0.025,1) (0.03,1) (0.035,1) (0.04,1) (0.045,1) (0.05,1) (0.055,1) (0.06,1) (0.065,1) (0.07,1) (0.08,1) (0.09,1) (0.10,1) (0.105,1) (0.11,1) (0.115,1) (0.12,1) (0.125,1) (0.13,1) (0.135,1) (0.14,1) (0.145,1) (0.15,1) (0.155,1) (0.16,1) (0.165,1) (0.17,1) (0.18,1) (0.19,1) (0.2,1) (0.21,1) (0.22,1) (0.24,1) (0.26,1) (0.28,1)};
\end{axis}

\begin{axis}[rulerr, at={(309.75pt,304.5pt)}, width=216.75pt, height=174pt, xmin=0, xmax=500, ymin=-0.2, ymax=3.0,
  ytick={-0.2,0,0.2,0.4,0.6,0.8,1.0,1.2,1.4,1.6,1.8,2.0,2.2,2.4,2.6,2.8,3.0}]
\addplot[errf] table[x=x,y=e] {\tCm} \closedcycle;
\end{axis}
\begin{axis}[rulmain, at={(309.75pt,304.5pt)}, width=216.75pt, height=174pt, xmin=0, xmax=500, ymin=-0.1, ymax=1.11,
  ytick={0,0.2,0.4,0.6,0.8,1.0}]
\addplot[act] coordinates {(0,1) (490,0)};
\addplot[pred] table[x=x,y=p] {\tCm};
\addlegendimage{boxlegend}
\legend{Actual RUL, Predicted RUL, Prediction Error}
\node[dir] at (rel axis cs:0.81,0.72) {A$\rightarrow$B};
\end{axis}

\begin{axis}[rulerr, at={(590.25pt,304.5pt)}, width=214.5pt, height=174.75pt, xmin=0, xmax=265, ymin=-0.09, ymax=3.0,
  ytick={0,0.2,0.4,0.6,0.8,1.0,1.2,1.4,1.6,1.8,2.0,2.2,2.4,2.6,2.8,3.0}]
\addplot[errf] table[x=x,y=e] {\tCr} \closedcycle;
\end{axis}
\begin{axis}[rulmain, at={(590.25pt,304.5pt)}, width=214.5pt, height=174.75pt, xmin=0, xmax=265, ymin=-0.1, ymax=1.1,
  xtick={0,50,100,150,200,250}, ytick={0,0.2,0.4,0.6,0.8,1.0}]
\addplot[act] coordinates {(0,1) (265,0)};
\addplot[pred] table[x=x,y=p] {\tCr};
\addlegendimage{boxlegend}
\legend{Actual RUL, Predicted RUL, Prediction RUL}
\node[dir] at (rel axis cs:0.81,0.73) {B$\rightarrow$A};
\end{axis}

\node[font=\bfseries\fontsize{12}{14}\selectfont] at (450pt,254.25pt) {(c)};

% ======================= ROW (d) =======================
\begin{axis}[dens={0.854}{0.992}, at={(31.5pt,59.25pt)}, width=242.25pt, height=181.5pt,
  xmin=-0.36, xmax=1.02, ymin=0, ymax=3.0, ytick={0,0.5,1,1.5,2,2.5,3}, yone]
\addplot[dB] coordinates {(-0.36,0.25) (-0.31,0.7) (-0.253,1.6) (-0.196,2.4) (-0.16,2.68) (-0.132,2.76) (-0.11,2.7) (-0.083,2.45) (-0.04,1.8) (0.003,1.3) (0.046,1.0) (0.102,0.88) (0.145,1.0) (0.202,1.3) (0.252,1.43) (0.316,1.3) (0.387,1.1) (0.458,1.02) (0.50,1.02) (0.544,1.0) (0.6,0.85) (0.672,0.6) (0.743,0.35) (0.814,0.15) (0.885,0.05) (0.97,0.0) (1.02,0.0)} \closedcycle;
\addplot[dR] coordinates {(-0.36,0.08) (-0.31,0.3) (-0.253,0.9) (-0.196,1.6) (-0.125,2.3) (-0.068,2.65) (-0.004,2.77) (0.06,2.6) (0.117,2.1) (0.174,1.5) (0.23,0.9) (0.287,0.6) (0.316,0.48) (0.373,0.45) (0.43,0.46) (0.487,0.42) (0.558,0.35) (0.6,0.33) (0.657,0.4) (0.714,0.47) (0.757,0.47) (0.814,0.4) (0.885,0.25) (0.956,0.1) (1.02,0.03)} \closedcycle;
\legend{Error distribution of A$\rightarrow$B, Error distribution of B$\rightarrow$A}
\node[ktab] at (rel axis cs:0.858,0.995) {\begin{tabular}{@{}ll@{}}\multicolumn{2}{@{}c@{}}{Kernel Smooth}\\ & w\\ I & 0.09818\\ P & 0.07162\end{tabular}};
\end{axis}
\begin{axis}[rug, at={(31.5pt,38.25pt)}, width=242.25pt, height=21pt, xmin=-0.36, xmax=1.02,
  xtick={-0.2,0,0.2,0.4,0.6,0.8}, xone]
\addplot[rB] coordinates {(-0.33,1) (-0.31,1) (-0.29,1) (-0.22,1) (-0.21,1) (-0.20,1) (-0.19,1) (-0.17,1) (-0.15,1) (-0.12,1) (-0.10,1) (-0.08,1) (-0.05,1) (-0.02,1) (0.02,1) (0.05,1) (0.1,1) (0.14,1) (0.16,1) (0.18,1) (0.22,1) (0.25,1) (0.27,1) (0.28,1) (0.29,1) (0.30,1) (0.31,1) (0.32,1) (0.33,1) (0.35,1) (0.37,1) (0.40,1) (0.42,1) (0.44,1) (0.46,1) (0.48,1) (0.50,1) (0.51,1) (0.52,1) (0.53,1) (0.54,1) (0.55,1) (0.56,1) (0.57,1) (0.58,1) (0.6,1) (0.62,1) (0.64,1) (0.66,1) (0.68,1) (0.7,1) (0.72,1) (0.74,1)};
\addplot[rR] coordinates {(-0.22,1) (-0.20,1) (-0.18,1) (-0.17,1) (-0.16,1) (-0.15,1) (-0.14,1) (-0.13,1) (-0.12,1) (-0.11,1) (-0.10,1) (-0.09,1) (-0.08,1) (-0.07,1) (-0.06,1) (-0.05,1) (-0.04,1) (-0.03,1) (-0.02,1) (-0.01,1) (0.00,1) (0.01,1) (0.02,1) (0.03,1) (0.04,1) (0.05,1) (0.06,1) (0.07,1) (0.08,1) (0.09,1) (0.10,1) (0.11,1) (0.12,1) (0.15,1) (0.19,1) (0.21,1) (0.24,1) (0.34,1) (0.38,1) (0.43,1) (0.47,1) (0.49,1) (0.52,1) (0.61,1) (0.63,1) (0.66,1) (0.69,1) (0.71,1) (0.76,1) (0.79,1)};
\end{axis}

\begin{axis}[rulerr, at={(315pt,52.5pt)}, width=217.5pt, height=174pt, xmin=0, xmax=500, ymin=-0.29, ymax=3.0,
  ytick={-0.2,0,0.2,0.4,0.6,0.8,1.0,1.2,1.4,1.6,1.8,2.0,2.2,2.4,2.6,2.8,3.0}]
\addplot[errf] table[x=x,y=e] {\tDm} \closedcycle;
\end{axis}
\begin{axis}[rulmain, at={(315pt,52.5pt)}, width=217.5pt, height=174pt, xmin=0, xmax=500, ymin=-0.4, ymax=1.1,
  ytick={-0.4,-0.2,0,0.2,0.4,0.6,0.8,1.0}]
\addplot[act] coordinates {(0,1) (490,0)};
\addplot[pred] table[x=x,y=p] {\tDm};
\addlegendimage{boxlegend}
\legend{Actual RUL, Predicted RUL, Prediction Error}
\node[dir] at (rel axis cs:0.81,0.73) {A$\rightarrow$B};
\end{axis}

\begin{axis}[rulerr, at={(588.75pt,52.5pt)}, width=216pt, height=174pt, xmin=0, xmax=265, ymin=-0.24, ymax=3.0,
  ytick={-0.2,0,0.2,0.4,0.6,0.8,1.0,1.2,1.4,1.6,1.8,2.0,2.2,2.4,2.6,2.8,3.0}]
\addplot[errf] table[x=x,y=e] {\tDr} \closedcycle;
\end{axis}
\begin{axis}[rulmain, at={(588.75pt,52.5pt)}, width=216pt, height=174pt, xmin=0, xmax=265, ymin=-0.3, ymax=1.1,
  xtick={0,50,100,150,200,250}, ytick={-0.2,0,0.2,0.4,0.6,0.8,1.0}]
\addplot[act] coordinates {(0,1) (265,0)};
\addplot[pred] table[x=x,y=p] {\tDr};
\addlegendimage{boxlegend}
\legend{Actual RUL, Predicted RUL, Prediction Error}
\node[dir] at (rel axis cs:0.81,0.73) {B$\rightarrow$A};
\end{axis}

\node[font=\bfseries\fontsize{12}{14}\selectfont] at (450pt,9.75pt) {(d)};
\end{tikzpicture}
\end{document}
